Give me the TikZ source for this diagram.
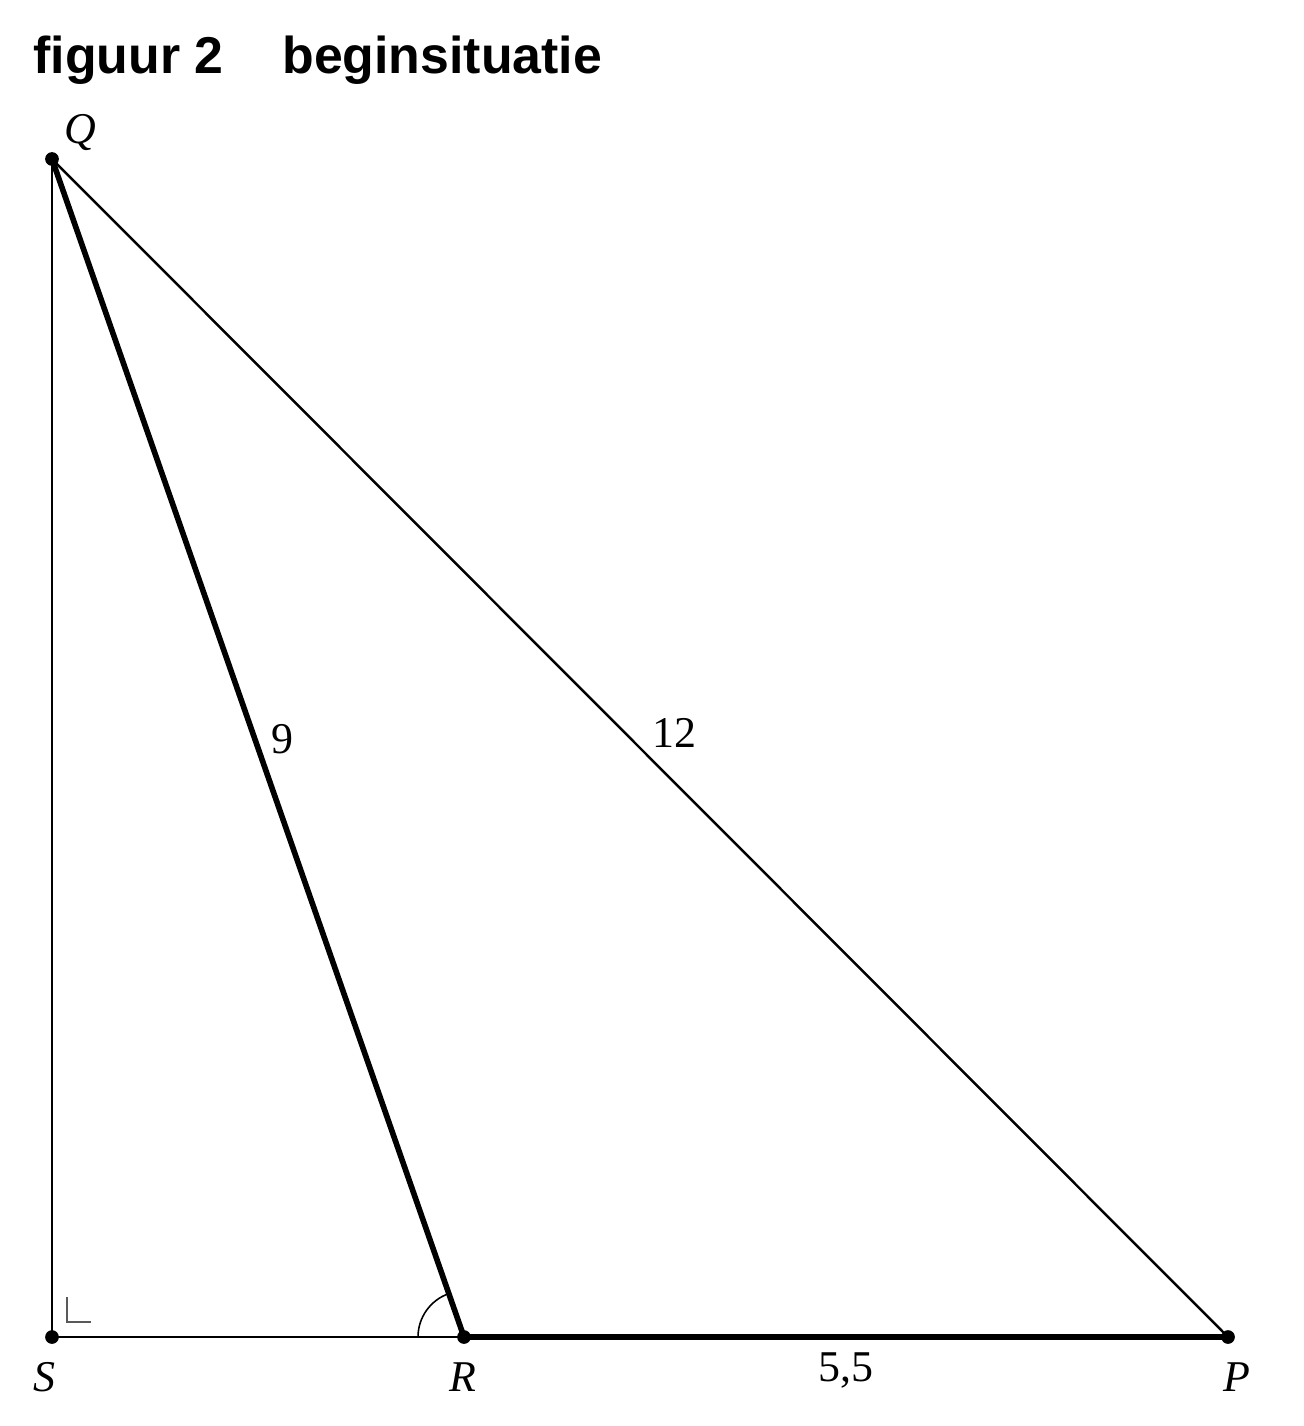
\documentclass[tikz,border=0pt]{standalone}
\usepackage{fontspec}
\setmainfont{Liberation Serif}
\setsansfont{Liberation Sans}
\usetikzlibrary{positioning}
\tikzset{
  thinline/.style={line width=1.6pt},
  thickline/.style={line width=3.2pt},
  vertex/.style={circle,fill=black,inner sep=0pt,minimum size=7.8pt},
  ptlabel/.style={font=\fontsize{25}{28}\selectfont\itshape,inner sep=0pt},
  numlabel/.style={font=\fontsize{25}{28}\selectfont,inner sep=0pt},
  titletext/.style={anchor=base west,inner sep=0pt,font=\sffamily\bfseries\fontsize{29.5}{32}\selectfont},
}
\begin{document}
\begin{tikzpicture}[x=0.02cm,y=-0.02cm]
      \useasboundingbox (0,0) rectangle (1304,1426);
      \node[titletext] (fig) at (33,74) {figuur 2};
      \node[titletext] (title) at (282,74) {beginsituatie};

      \coordinate (Q) at (52,159);
      \coordinate (S) at (52,1337);
      \coordinate (R) at (464,1337);
      \coordinate (P) at (1228,1337);

      \draw[thinline] (Q) -- (S) -- (R);
      \draw[line width=1.4pt] (Q) -- (P);
      \draw[thickline,line cap=round] (Q) -- (R) -- (P);

      % right angle and angle arc
      \draw[gray!70!black,line width=1pt] (67,1297) -- (67,1322) -- (91,1322);
      \draw[line width=0.9pt] ([shift={(-46,0)}]R) arc[start angle=180,end angle=109.3,radius=0.92cm];

      \foreach \p in {Q,S,R,P}
        \node[vertex] at (\p) {};

      \node[ptlabel] (lQ) at (80,133) {Q};
      \node[ptlabel] (lS) at (44,1377) {S};
      \node[ptlabel] (lR) at (463,1377) {R};
      \node[ptlabel] (lP) at (1237,1377) {P};

      \node[numlabel] (l9) at (282,739) {9};
      \node[numlabel] (l12) at (674,733) {12};
      \node[numlabel] (l55) at (846,1370) {5,5};
\end{tikzpicture}
\end{document}
